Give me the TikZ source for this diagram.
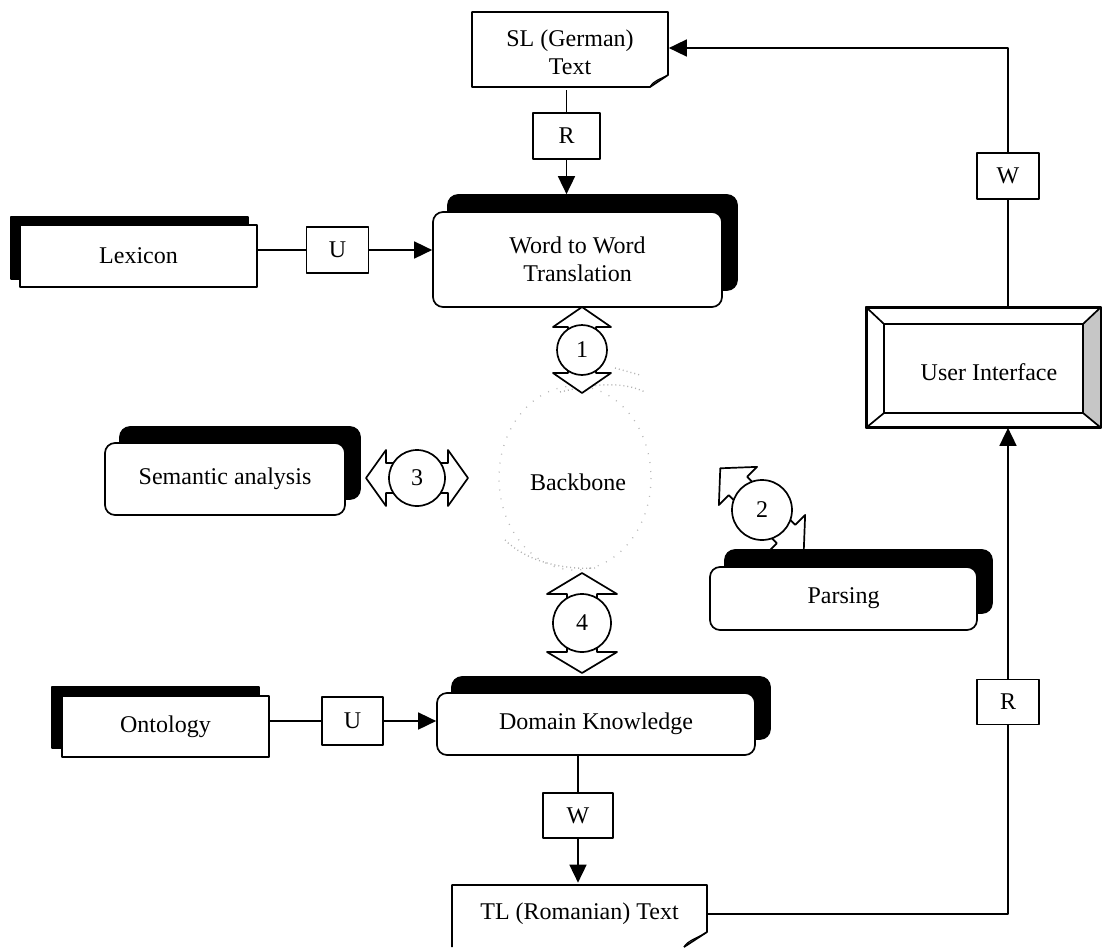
\documentclass[tikz,border=0pt]{standalone}
\usepackage{fontspec}
\setmainfont{Liberation Serif}
\usetikzlibrary{arrows.meta}
\newcommand\dblarrow[9]{%
  \begin{scope}[shift={#2}, rotate=#3]
    \draw[fill=white] (-#4,0) -- ({-#4+#5},-#6) -- ({-#4+#5},-#7) -- ({#4-#5},-#7) -- ({#4-#5},-#6) -- (#4,0)
      -- ({#4-#5},#6) -- ({#4-#5},#7) -- ({-#4+#5},#7) -- ({-#4+#5},#6) -- cycle;
    \node[circle, draw, fill=white, inner sep=0pt, minimum size={2*#8pt}] (#1) at (0,0) {#9};
  \end{scope}}
\begin{document}
\begin{tikzpicture}[x=1pt,y=-1pt,line width=1.7pt,line join=round,
  font=\fontsize{24}{28}\selectfont,
  rbox/.style={draw,fill=white,rounded corners=10pt,inner sep=0pt,align=center},
  shd/.style={draw,fill=black,rounded corners=10pt,inner sep=0pt},
  sbox/.style={draw,fill=white,inner sep=0pt,align=center},
  sqshd/.style={draw,fill=black,inner sep=0pt},
  lbl/.style={draw,fill=white,inner sep=0pt,minimum width=62pt,minimum height=46pt},
  speck/.style={gray!60, line width=1.4pt, dash pattern=on 1pt off 3pt},
  arr/.style={-{Triangle[length=18pt,width=17pt]}}]

\useasboundingbox (0,0) rectangle (1103,948);

% Backbone
\draw[gray!55, line width=1.3pt, dash pattern=on 1pt off 8pt] (575,478) ellipse [x radius=76, y radius=92];
\draw[speck] (505,540) .. controls (525,560) and (560,570) .. (595,568);
\draw[speck] (560,392) .. controls (590,385) and (620,380) .. (645,392);
\draw[speck] (615,368) -- (640,375);
\node (bb) at (578,482) {Backbone};

% Word to Word Translation
\node[shd, minimum width=289pt, minimum height=95pt] (wtws) at (592.5,242.5) {};
\node[rbox, minimum width=289pt, minimum height=95pt] (wtw) at (577.5,259.5) {Word to Word\\Translation};

% Lexicon
\node[sqshd, minimum width=237pt, minimum height=62pt] (lexs) at (129.5,248) {};
\node[sbox, minimum width=237pt, minimum height=62pt] (lex) at (138.5,256) {Lexicon};

% Semantic analysis
\node[shd, minimum width=240pt, minimum height=72pt] (sems) at (240,463) {};
\node[rbox, minimum width=240pt, minimum height=72pt] (sem) at (225,479) {Semantic analysis};

% arrow 2 (drawn before Parsing so Parsing hides its lower head)
\dblarrow{c2}{(762,510)}{135}{59}{25}{27}{13}{30}{2}

% Parsing
\node[shd, minimum width=267pt, minimum height=63pt] (pars) at (858.5,581.5) {};
\node[rbox, minimum width=267pt, minimum height=63pt] (par) at (843.5,598.5) {Parsing};

% Domain Knowledge
\node[shd, minimum width=318pt, minimum height=62pt] (dks) at (611,708) {};
\node[rbox, minimum width=318pt, minimum height=62pt] (dk) at (596,724) {Domain Knowledge};

% Ontology
\node[sqshd, minimum width=207pt, minimum height=61pt] (onts) at (155.5,717.5) {};
\node[sbox, minimum width=207pt, minimum height=61pt] (ont) at (165.5,726.5) {Ontology};

% double block arrows 1,3,4
\dblarrow{c1}{(582,350)}{90}{43}{20}{29}{14}{25}{1}
\dblarrow{c3}{(417,478)}{0}{51}{20}{28}{15}{28}{3}
\dblarrow{c4}{(582,623)}{90}{50}{21}{35}{15}{29}{4}

% SL (German) Text document
\draw (472,12) -- (668,12) -- (668,75) -- (650,87) -- (472,87) -- cycle;
\draw[line width=1.2pt] (650,87) .. controls (654,80) and (661,79) .. (668,75);
\node[inner sep=0pt, minimum width=196pt, minimum height=75pt, align=center] (sl) at (570,52) {SL (German)\\Text};

% TL (Romanian) Text document
\draw (452,947) -- (452,885) -- (707,885) -- (707,932) -- (684,947);
\draw[line width=1.2pt] (684,947) .. controls (688,940) and (698,938) .. (707,932);
\node[inner sep=0pt, minimum width=255pt, minimum height=61pt] (tl) at (579.5,914) {TL (Romanian) Text};

% User Interface (bevelled)
\node[draw, fill=white, inner sep=0pt, minimum width=233pt, minimum height=119pt] (ui) at (983.5,367.5) {};
\fill[gray!45] (1100,308) -- (1083,324) -- (1083,413) -- (1100,427) -- cycle;
\draw (ui.north west) rectangle (ui.south east);
\draw (884,324) rectangle (1083,413);
\draw (867,308) -- (884,324) (1100,308) -- (1083,324) (867,427) -- (884,413) (1100,427) -- (1083,413);
\node (uit) at (989,372) {User Interface};

% label boxes
\node[lbl, minimum width=67pt] (R1) at (566.5,136) {R};
\node[lbl] (U1) at (337.5,250) {U};
\node[lbl, minimum width=61pt, minimum height=48pt] (U2) at (352.5,721) {U};
\node[lbl, minimum width=70pt, minimum height=45pt] (W2) at (578,815.5) {W};
\node[lbl] (W1) at (1008,176) {W};
\node[lbl, minimum height=45pt] (R2) at (1008,702) {R};

% connectors
\draw (sl.south -| R1) -- (R1.north);
\draw[arr] (R1.south) -- (R1.south |- wtws.north);
\draw (lex.east |- U1) -- (U1.west);
\draw[arr] (U1.east) -- (U1.east -| wtw.west);
\draw (ont.east |- U2) -- (U2.west);
\draw[arr] (U2.east) -- (U2.east -| dk.west);
\draw (dk.south -| W2) -- (W2.north);
\draw[arr] (W2.south) -- (W2.south |- tl.north);
\draw (tl.east) -| (R2.south);
\draw[arr] (R2.north) -- (R2.north |- ui.south);
\draw (ui.north -| W1) -- (W1.south);
\draw[arr] (W1.north) |- ([yshift=4pt]sl.east);

\end{tikzpicture}
\end{document}
